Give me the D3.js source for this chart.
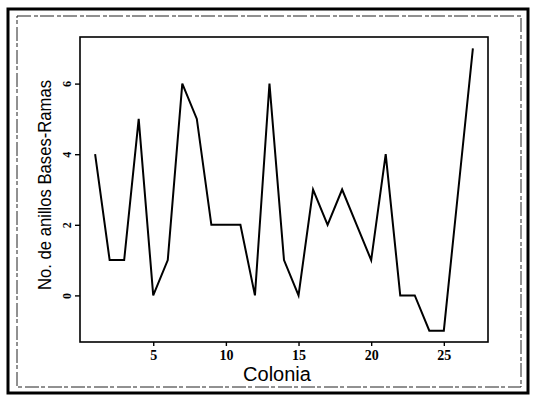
<!DOCTYPE html>
<html>
<head>
<meta charset="utf-8">
<script src="https://cdn.jsdelivr.net/npm/d3@7"></script>
<style>
  body { margin: 0; background: #fff; }
  svg { display: block; }
</style>
</head>
<body>
<div class="canvas"></div>
<script>
const dims = {height: 397, width: 534};
const plot = {left: 80, right: 488, top: 37, bottom: 342};

// data
const colonia = [1, 2, 3, 4, 5, 6, 7, 8, 9, 10, 11, 12, 13, 14, 15, 16, 17, 18, 19, 20, 21, 22, 23, 24, 25, 26, 27];
const anillos = [4, 1, 1, 5, 0, 1, 6, 5, 2, 2, 2, 0, 6, 1, 0, 3, 2, 3, 2, 1, 4, 0, 0, -1, -1, 3, 7];
const xTicks = [5, 10, 15, 20, 25];
const yTicks = [0, 2, 4, 6];

const svg = d3.select('.canvas')
  .append('svg')
  .attr('width', dims.width)
  .attr('height', dims.height);

// scanned page borders
svg.append('rect')
  .attr('x', 8).attr('y', 9)
  .attr('width', 520).attr('height', 384)
  .attr('fill', 'none')
  .attr('stroke', '#000')
  .attr('stroke-width', 3);

svg.append('rect')
  .attr('x', 17).attr('y', 16)
  .attr('width', 504).attr('height', 371)
  .attr('fill', 'none')
  .attr('stroke', '#222')
  .attr('stroke-width', 1)
  .attr('stroke-dasharray', '14,3,4,2');

// axes range extended 4% like the original plot
const xPad = (d3.max(colonia) - d3.min(colonia)) * 0.04;
const yPad = (d3.max(anillos) - d3.min(anillos)) * 0.04;

const x = d3.scaleLinear()
  .domain([d3.min(colonia) - xPad, d3.max(colonia) + xPad])
  .range([plot.left, plot.right]);

const y = d3.scaleLinear()
  .domain([d3.min(anillos) - yPad, d3.max(anillos) + yPad])
  .range([plot.bottom, plot.top]);

// plot frame
svg.append('rect')
  .attr('x', plot.left).attr('y', plot.top)
  .attr('width', plot.right - plot.left)
  .attr('height', plot.bottom - plot.top)
  .attr('fill', 'none')
  .attr('stroke', '#000')
  .attr('stroke-width', 1.6);

// x axis
const xAxis = svg.append('g')
  .attr('transform', `translate(0, ${plot.bottom})`)
  .call(d3.axisBottom(x).tickValues(xTicks).tickSize(4).tickPadding(4));

xAxis.select('.domain').remove();
xAxis.selectAll('.tick line').attr('stroke-width', 1.4);
xAxis.selectAll('.tick text')
  .attr('font-family', '"Liberation Serif", serif')
  .attr('font-weight', 'bold')
  .attr('font-size', 14)
  .attr('fill', '#000');

// y axis, labels turned like the original
const yAxis = svg.append('g')
  .attr('transform', `translate(${plot.left}, 0)`)
  .call(d3.axisLeft(y).tickValues(yTicks).tickSize(5).tickPadding(0));

yAxis.select('.domain').remove();
yAxis.selectAll('.tick line').attr('stroke-width', 1.4);
yAxis.selectAll('.tick text')
  .attr('font-family', '"Liberation Serif", serif')
  .attr('font-weight', 'bold')
  .attr('font-size', 12)
  .attr('fill', '#000')
  .attr('text-anchor', 'middle')
  .attr('x', null)
  .attr('dy', null)
  .attr('transform', 'translate(-9, 0) rotate(-90)');

// series line
const line = d3.line()
  .x((d, i) => x(colonia[i]))
  .y(d => y(d));

svg.append('path')
  .datum(anillos)
  .attr('fill', 'none')
  .attr('stroke', '#000')
  .attr('stroke-width', 2)
  .attr('stroke-linejoin', 'miter')
  .attr('d', line);

// axis titles
svg.append('text')
  .attr('x', (plot.left + plot.right) / 2 - 7)
  .attr('y', 381)
  .attr('text-anchor', 'middle')
  .attr('font-family', 'Arial, "Liberation Sans", sans-serif')
  .attr('font-size', 20)
  .text('Colonia');

svg.append('text')
  .attr('transform', `translate(51, 185) rotate(-90)`)
  .attr('text-anchor', 'middle')
  .attr('font-family', 'Arial, "Liberation Sans", sans-serif')
  .attr('font-size', 19)
  .attr('textLength', 210)
  .attr('lengthAdjust', 'spacingAndGlyphs')
  .text('No. de anillos Bases-Ramas');
</script>
</body>
</html>
